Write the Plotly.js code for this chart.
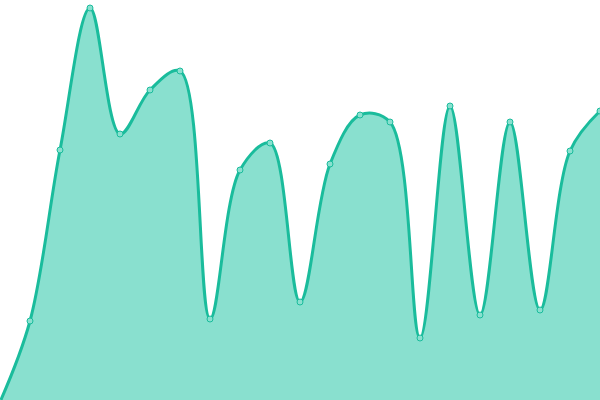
<!DOCTYPE html>
<html>
<head>
<meta charset="utf-8">
<script src="https://cdn.plot.ly/plotly-3.0.1.min.js"></script>
<style>
  html, body { margin: 0; padding: 0; background: #fff; }
  #chart { width: 600px; height: 400px; }
</style>
</head>
<body>
<div id="chart"></div>
<script>
// sample positions and values
const xs = [0, 30, 60, 90, 120, 150, 180, 210, 240, 270, 300,
            330, 360, 390, 420, 450, 480, 510, 540, 570, 600];
const values = [-2, 79, 250, 392, 266, 310, 329, 81, 230, 257, 98,
                236, 285, 278, 62, 294, 85, 278, 90, 249, 289];

const LINE = 'rgb(26,188,156)';
const FILL = 'rgb(137,224,207)';

let area = {
    x: xs,
    y: values,
    type: 'scatter',
    mode: 'lines+markers',
    fill: 'tozeroy',
    fillcolor: FILL,
    line: { color: LINE, width: 3, shape: 'spline', smoothing: 1 },
    marker: { size: 6, color: FILL, line: { color: LINE, width: 1 } },
    hoverinfo: 'none'
};

let layout = {
    width: 600,
    height: 400,
    margin: { l: 0, r: 0, t: 0, b: 0 },
    paper_bgcolor: '#fff',
    plot_bgcolor: '#fff',
    showlegend: false,
    xaxis: { range: [0, 600], visible: false, fixedrange: true },
    yaxis: { range: [0, 400], visible: false, fixedrange: true }
};

Plotly.newPlot('chart', [area], layout, { staticPlot: true });
</script>
</body>
</html>
